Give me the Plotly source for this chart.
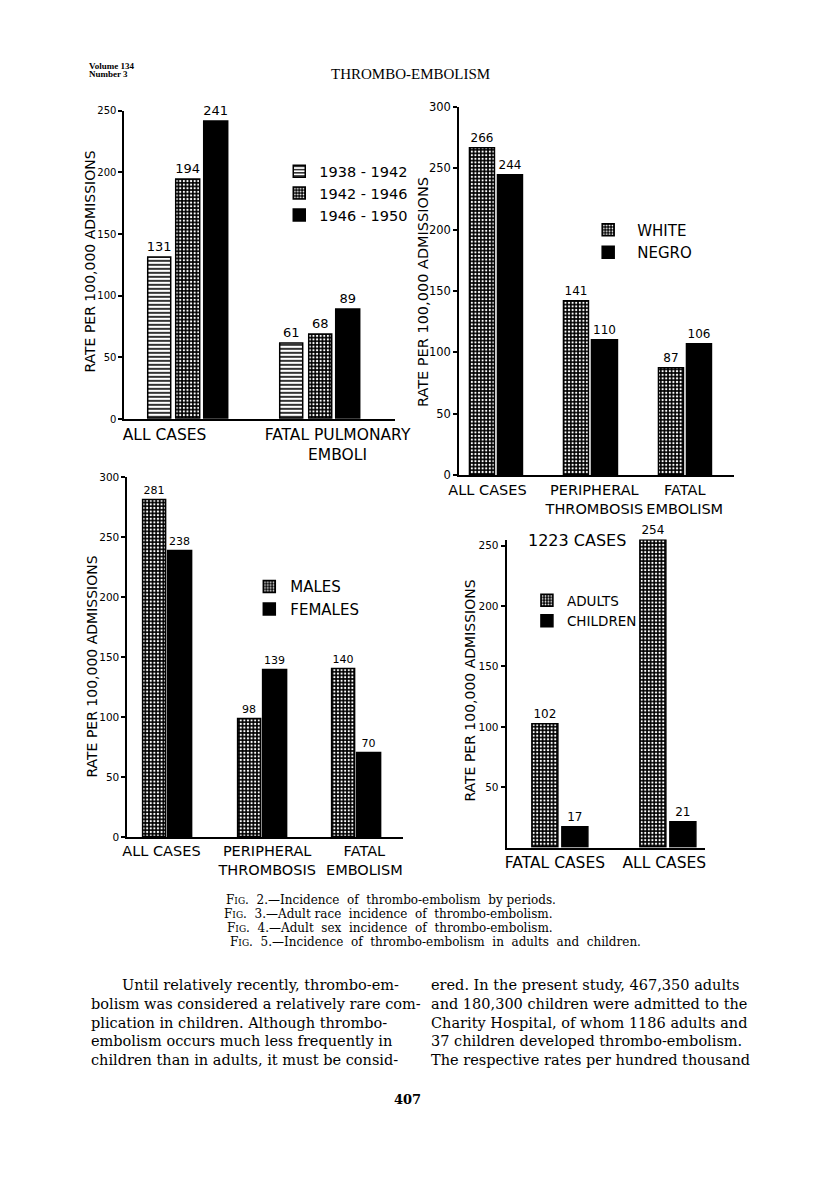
import plotly.graph_objects as go

# page is 816x1178; the browser body keeps an 8px margin, so the figure is
# drawn 8px in from the top-left corner and sized to fit inside the window.
PAGE_W, PAGE_H = 816, 1178
OFF = 8
W, H = PAGE_W - 2 * OFF, PAGE_H - 2 * OFF
def X(px): return (px - OFF) / W
def Y(py): return 1 - (py - OFF) / H

SANS = "DejaVu Sans"
SERIF = "DejaVu Serif"

# ---------------- data ----------------
# Fig. 2 - incidence by periods
f2_cats = ["ALL CASES", "FATAL PULMONARY<br>EMBOLI"]
f2_series = ["1938 - 1942", "1942 - 1946", "1946 - 1950"]
f2_1938_1942 = [131, 61]
f2_1942_1946 = [194, 68]
f2_1946_1950 = [241, 89]

# Fig. 3 - adult race incidence
f3_cats = ["ALL CASES", "PERIPHERAL<br>THROMBOSIS", "FATAL<br>EMBOLISM"]
f3_series = ["WHITE", "NEGRO"]
f3_white = [266, 141, 87]
f3_negro = [244, 110, 106]

# Fig. 4 - adult sex incidence
f4_cats = ["ALL CASES", "PERIPHERAL<br>THROMBOSIS", "FATAL<br>EMBOLISM"]
f4_series = ["MALES", "FEMALES"]
f4_males = [281, 98, 140]
f4_females = [238, 139, 70]

# Fig. 5 - adults and children
f5_cats = ["FATAL CASES", "ALL CASES"]
f5_series = ["ADULTS", "CHILDREN"]
f5_adults = [102, 254]
f5_children = [17, 21]

y_title = "RATE PER 100,000 ADMISSIONS"

# ---------------- styles ----------------
STRIPE = dict(shape="-", fgcolor="black", bgcolor="white", size=4, solidity=0.4, fillmode="replace")
CHECK = dict(shape=".", fgcolor="white", bgcolor="black", size=3.6, solidity=0.3, fillmode="replace")
SOLID = dict(shape="")

def bar(x, y, name, pattern, xa, ya, leg, offset, width, tsize):
    return go.Bar(
        x=x, y=y, name=name, xaxis=xa, yaxis=ya, legend=leg,
        offset=offset, width=width,
        marker=dict(color="black", pattern=pattern, line=dict(color="black", width=1.5)),
        texttemplate="%{y}", textposition="outside", constraintext="none",
        textfont=dict(family=SANS, size=tsize, color="black"),
        cliponaxis=False, showlegend=True,
    )

fig = go.Figure()

# Fig 2
x2 = list(range(len(f2_cats)))
fig.add_trace(bar(x2, f2_1938_1942, f2_series[0], STRIPE, "x", "y", "legend", -0.305, 0.18, 13))
fig.add_trace(bar(x2, f2_1942_1946, f2_series[1], CHECK, "x", "y", "legend", -0.086, 0.18, 13))
fig.add_trace(bar(x2, f2_1946_1950, f2_series[2], SOLID, "x", "y", "legend", 0.125, 0.18, 13))

# Fig 3
x3 = list(range(len(f3_cats)))
fig.add_trace(bar(x3, f3_white, f3_series[0], CHECK, "x2", "y2", "legend2", -0.285, 0.265, 12))
fig.add_trace(bar(x3, f3_negro, f3_series[1], SOLID, "x2", "y2", "legend2", 0.01, 0.27, 12))

# Fig 4
x4 = list(range(len(f4_cats)))
fig.add_trace(bar(x4, f4_males, f4_series[0], CHECK, "x3", "y3", "legend3", -0.26, 0.245, 11))
fig.add_trace(bar(x4, f4_females, f4_series[1], SOLID, "x3", "y3", "legend3", 0.005, 0.255, 11))

# Fig 5
x5 = list(range(len(f5_cats)))
fig.add_trace(bar(x5, f5_adults, f5_series[0], CHECK, "x4", "y4", "legend4", -0.255, 0.24, 12))
fig.add_trace(bar(x5, f5_children, f5_series[1], SOLID, "x4", "y4", "legend4", 0.022, 0.24, 12))

def yax(dom, rng, tv, size, anchor):
    return dict(domain=dom, range=rng, anchor=anchor, showline=True, linecolor="black", linewidth=2,
                ticks="outside", ticklen=4, tickwidth=2, tickcolor="black", tickvals=tv,
                showgrid=False, zeroline=False, fixedrange=True,
                tickfont=dict(family=SANS, size=size, color="black"))

def xax(dom, rng, tv, tt, size, anchor):
    return dict(domain=dom, range=rng, anchor=anchor, showline=True, linecolor="black", linewidth=2,
                ticks="", tickvals=tv, ticktext=tt, tickangle=0, showgrid=False, zeroline=False,
                fixedrange=True, tickfont=dict(family=SANS, size=size, color="black"))

def leg(px, py, size, iw=30):
    return dict(x=X(px), y=Y(py), xanchor="left", yanchor="top", bgcolor="rgba(0,0,0,0)",
                font=dict(family=SANS, size=size, color="black"), tracegroupgap=0,
                traceorder="normal", itemwidth=iw)

ann = []
def txt(px, py, s, size, family=SANS, angle=0, xanchor="center", color="black"):
    ann.append(dict(x=X(px), y=Y(py), xref="paper", yref="paper", text=s, showarrow=False,
                    textangle=angle, xanchor=xanchor, yanchor="middle",
                    font=dict(family=family, size=size, color=color)))

# axis titles
txt(81, 258, y_title, 14, angle=-90)
txt(425, 288, y_title, 14.5, angle=-90)
txt(83, 668, y_title, 14, angle=-90)
txt(474, 692, y_title, 14, angle=-90)
txt(585, 540, "1223 CASES", 16)

# page header
txt(78, 60, "<b>Volume 134</b>", 9, family="Liberation Serif", xanchor="left")
txt(78, 68, "<b>Number 3</b>", 9, family="Liberation Serif", xanchor="left")
txt(413, 68, "THROMBO-EMBOLISM", 15, family="Liberation Serif")

# captions
SC = "<span style='font-size:9px'>IG</span>"
caps = [
    (220, 904, "F" + SC + ".  2.—Incidence  of  thrombo-embolism  by periods."),
    (218, 918, "F" + SC + ".  3.—Adult race  incidence  of  thrombo-embolism."),
    (221, 932, "F" + SC + ".  4.—Adult  sex  incidence  of  thrombo-embolism."),
    (224, 946, "F" + SC + ".  5.—Incidence  of  thrombo-embolism  in  adults  and  children."),
]
for cx, cy, s in caps:
    txt(cx, cy, s, 12, family=SERIF, xanchor="left")

# body text
left_lines = [
    (112, "Until relatively recently, thrombo-em-"),
    (80, "bolism was considered a relatively rare com-"),
    (80, "plication in children. Although thrombo-"),
    (80, "embolism occurs much less frequently in"),
    (80, "children than in adults, it must be consid-"),
]
right_lines = [
    "ered. In the present study, 467,350 adults",
    "and 180,300 children were admitted to the",
    "Charity Hospital, of whom 1186 adults and",
    "37 children developed thrombo-embolism.",
    "The respective rates per hundred thousand",
]
body_y = [990, 1009, 1028, 1047, 1066]
for (lx, s), r, by in zip(left_lines, right_lines, body_y):
    txt(lx, by, s, 14.5, family=SERIF, xanchor="left")
    txt(432, by, r, 14.5, family=SERIF, xanchor="left")
txt(410, 1106, "<b>407</b>", 13, family=SERIF)

fig.update_layout(
    width=W, height=H, margin=dict(l=0, r=0, t=0, b=0),
    paper_bgcolor="white", plot_bgcolor="rgba(0,0,0,0)",
    barmode="overlay", bargap=0,
    xaxis=xax([X(117), X(397)], [-0.4835, 1.568], [-0.18, 1.13], f2_cats, 15.5, "y"),
    yaxis=yax([Y(417), Y(105)], [0, 250], [0, 50, 100, 150, 200, 250], 10, "x"),
    xaxis2=xax([X(463), X(747)], [-0.399, 2.506], [-0.1, 1.03, 1.985], f3_cats, 14.5, "y2"),
    yaxis2=yax([Y(474), Y(100.7)], [0, 300], [0, 50, 100, 150, 200, 250, 300], 11.5, "x2"),
    xaxis3=xax([X(120), X(405)], [-0.431, 2.49], [-0.07, 1.05, 2.08], f4_cats, 14.5, "y3"),
    yaxis3=yax([Y(840), Y(476)], [0, 300], [0, 50, 100, 150, 200, 250, 300], 10.5, "x3"),
    xaxis4=xax([X(512), X(717)], [-0.496, 1.335], [-0.05, 0.96], f5_cats, 15.5, "y4"),
    yaxis4=yax([Y(851), Y(538.9)], [0, 255], [50, 100, 150, 200, 250], 10.5, "x4"),
    legend=leg(277, 150, 14.5),
    legend2=leg(587, 209, 15, 48),
    legend3=leg(245, 570, 15, 32),
    legend4=leg(533, 585, 13.5),
    annotations=ann,
    showlegend=True,
)

fig.write_html("out.html")
